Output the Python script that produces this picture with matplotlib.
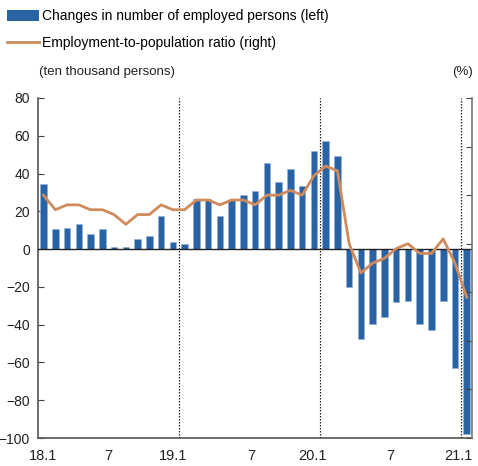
import matplotlib
matplotlib.use('Agg')
import matplotlib.pyplot as plt
from matplotlib.patches import Patch
from matplotlib.lines import Line2D
import numpy as np

# Monthly data, 2018.1 - 2021.1
months = ['18.1', '2', '3', '4', '5', '6', '7', '8', '9', '10', '11', '12',
          '19.1', '2', '3', '4', '5', '6', '7', '8', '9', '10', '11', '12',
          '20.1', '2', '3', '4', '5', '6', '7', '8', '9', '10', '11', '12',
          '21.1']

# changes in number of employed persons (ten thousand persons, left)
emp_change = [34.3, 10.6, 11.4, 13.2, 7.8, 10.7, 1.1, 1.1, 5.1, 6.8, 17.3, 3.9,
              2.5, 26.5, 26.3, 17.3, 26.2, 28.8, 30.8, 45.4, 35.4, 42.3, 33.6, 51.8,
              57.0, 49.4, -19.8, -47.8, -39.6, -35.8, -28.0, -27.4, -39.6, -42.7, -27.4, -63.0,
              -98.1]

# employment-to-population ratio (%, right)
emp_ratio = [61.0, 60.7, 60.8, 60.8, 60.7, 60.7, 60.6, 60.4, 60.6, 60.6, 60.8, 60.7,
             60.7, 60.9, 60.9, 60.8, 60.9, 60.9, 60.8, 61.0, 61.0, 61.1, 61.0, 61.4,
             61.6, 61.5, 60.0, 59.4, 59.6, 59.7, 59.9, 60.0, 59.8, 59.8, 60.1, 59.6,
             58.9]

xtick_labels = ['18.1', '7', '19.1', '7', '20.1', '7', '21.1']
xtick_pos = [0, 5.5, 11.0, 17.7, 22.9, 29.5, 35.3]
year_breaks = [11.5, 23.5, 35.5]

BAR_COLOR = '#2a63a4'
LINE_COLOR = '#cf8b5c'

plt.rcParams['font.family'] = ['Liberation Sans', 'DejaVu Sans']

fig = plt.figure(figsize=(4.78, 4.66), dpi=100)
ax = fig.add_axes([0.0795, 0.06, 0.908, 0.7297])

x = np.arange(len(months))
ax.bar(x, emp_change, width=0.56, color=BAR_COLOR, edgecolor='#8fb0d6',
       linewidth=0.4, zorder=2)
ax.axhline(0, color='#222222', linewidth=1.0, zorder=3)
for xb in year_breaks:
    ax.axvline(xb, color='#222222', linestyle=(0, (1.2, 1.2)), linewidth=0.9, zorder=3)

ax.set_xlim(-0.47, 36.45)
ax.set_ylim(-100, 80)
ax.set_yticks(np.arange(-100, 81, 20))
ax.set_xticks(xtick_pos)
ax.set_xticklabels(xtick_labels)
ax.tick_params(axis='x', length=0, pad=8, labelsize=10.5, labelcolor='#222222')
ax.tick_params(axis='y', direction='in', length=4, labelsize=10, pad=5.8,
               color='#444444', labelcolor='#222222')
for side in ['left', 'bottom']:
    ax.spines[side].set_color('#555555')
    ax.spines[side].set_linewidth(1.2)
ax.spines['top'].set_visible(False)
ax.spines['right'].set_visible(False)

ax2 = ax.twinx()
ax2.plot(x, emp_ratio, color=LINE_COLOR, linewidth=2.0, zorder=4)
ax2.set_ylim(56, 63)
ax2.set_yticks(np.arange(56, 64, 1))
ax2.set_yticklabels([])
ax2.tick_params(axis='y', direction='in', length=4, color='#444444')
ax2.spines['top'].set_visible(False)
ax2.spines['left'].set_visible(False)
ax2.spines['bottom'].set_visible(False)
ax2.spines['right'].set_color('#777777')
ax2.spines['right'].set_linewidth(1.2)

fig.text(0.082, 0.845, '(ten thousand persons)', fontsize=9.5, color='#222222',
         va='center')
fig.text(0.99, 0.845, '(%)', fontsize=9.5, color='#222222', va='center', ha='right')

handles = [Patch(facecolor=BAR_COLOR, edgecolor='none'),
           Line2D([0], [0], color=LINE_COLOR, linewidth=2.0)]
labels = ['Changes in number of employed persons (left)',
          'Employment-to-population ratio (right)']
fig.legend(handles, labels, loc='upper left', bbox_to_anchor=(0.0, 0.995),
           frameon=False, fontsize=10, handlelength=2.3, handleheight=0.9,
           handletextpad=0.2, labelspacing=0.95, borderaxespad=0.3,
           borderpad=0.2)

fig.savefig('out.png', dpi=100)
